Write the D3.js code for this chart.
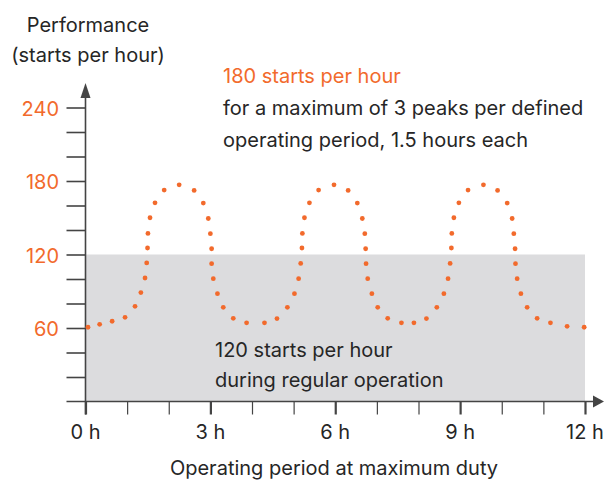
<!DOCTYPE html>
<html>
<head>
<meta charset="utf-8">
<script src="https://d3js.org/d3.v7.min.js"></script>
<style>
  body { margin: 0; background: #fff; font-family: 'Inter', sans-serif; }
  svg text { font-family: 'Inter', sans-serif; font-size: 20px; }
</style>
</head>
<body>
<div id="chart"></div>
<script>
// values
const hours = [0.06, 0.34, 0.64, 0.95, 1.19, 1.33, 1.43, 1.47, 1.49, 1.50, 1.55, 1.67, 1.89, 2.25, 2.61, 2.83, 2.95, 3.00, 3.03, 3.03, 3.07, 3.17, 3.31, 3.55,
  3.87, 4.30, 4.60, 4.85, 5.02, 5.12, 5.17, 5.20, 5.21, 5.26, 5.38, 5.60, 5.97, 6.31, 6.53, 6.65, 6.71, 6.73, 6.74, 6.78, 6.88, 7.02, 7.26,
  7.59, 7.89, 8.19, 8.44, 8.61, 8.71, 8.76, 8.79, 8.80, 8.85, 8.97, 9.19, 9.56, 9.90, 10.13, 10.25, 10.29, 10.32, 10.33, 10.37, 10.46, 10.61, 10.85,
  11.17, 11.57, 11.98]
const starts = [60.6, 63.0, 65.5, 68.7, 77.7, 88.9, 100.8, 113.1, 125.3, 137.2, 150.0, 162.2, 172.6, 176.9, 172.3, 162.0, 149.4, 137.0, 124.7, 112.5, 100.3, 88.0, 76.9, 67.9,
  64.2, 64.2, 67.7, 76.9, 88.0, 100.3, 112.7, 125.3, 137.2, 150.0, 162.2, 172.6, 176.9, 172.3, 162.0, 149.4, 137.0, 124.7, 112.5, 100.3, 88.0, 76.9, 67.9,
  64.2, 64.2, 67.7, 76.9, 88.0, 100.3, 112.7, 125.3, 137.2, 150.0, 162.2, 172.6, 176.9, 172.3, 162.0, 149.4, 137.0, 124.7, 112.5, 100.3, 88.0, 76.9, 67.9,
  64.2, 61.4, 60.6]
const regularLevel = 120
const yTicks = [60, 120, 180, 240]
const xTicks = [0, 3, 6, 9, 12]
const xLabel = 'Operating period at maximum duty'
const yLabel = ['Performance', '(starts per hour)']
const peakNote = ['180 starts per hour', 'for a maximum of 3 peaks per defined', 'operating period, 1.5 hours each']
const regularNote = ['120 starts per hour', 'during regular operation']

const orange = '#f26a2c'
const ink = '#262626'
const axisCol = '#444'

const W = 604, H = 481
const x = d3.scaleLinear().domain([0, 12]).range([85.5, 585])
const y = d3.scaleLinear().domain([0, 240]).range([401.5, 107.5])

const svg = d3.select('#chart').append('svg')
  .attr('width', W)
  .attr('height', H)

// grey band for regular operation
svg.append('rect')
  .attr('x', x(0))
  .attr('y', y(regularLevel))
  .attr('width', x(12) - x(0))
  .attr('height', y(0) - y(regularLevel))
  .attr('fill', '#dcdcde')

// y axis: ticks every 20 to the left
const yAxis = svg.append('g')
  .attr('transform', `translate(${x(0)},0)`)
  .call(d3.axisLeft(y).tickValues(d3.range(20, 241, 20)).tickSize(19).tickFormat(''))
yAxis.select('.domain').remove()
yAxis.selectAll('line').attr('stroke', axisCol).attr('stroke-width', 1.6)

svg.append('line')
  .attr('x1', x(0)).attr('x2', x(0))
  .attr('y1', y(0) + 13).attr('y2', 95)
  .attr('stroke', axisCol).attr('stroke-width', 1.6)
svg.append('path')
  .attr('d', `M${x(0)},83 L${x(0) - 5},98 L${x(0) + 5},98 Z`)
  .attr('fill', axisCol)

svg.selectAll('.ylab')
  .data(yTicks)
  .join('text')
  .attr('x', 59)
  .attr('y', d => y(d) + 8)
  .attr('text-anchor', 'end')
  .attr('fill', orange)
  .text(d => d)

// x axis: ticks every hour below
const xAxis = svg.append('g')
  .attr('transform', `translate(0,${y(0)})`)
  .call(d3.axisBottom(x).tickValues(d3.range(0, 13, 1)).tickSize(13).tickFormat(''))
xAxis.select('.domain').remove()
xAxis.selectAll('line')
  .attr('stroke', axisCol)
  .attr('stroke-width', d => d % 3 === 0 ? 2.2 : 1.2)

svg.append('line')
  .attr('x1', 66.5).attr('x2', 595)
  .attr('y1', y(0)).attr('y2', y(0))
  .attr('stroke', axisCol).attr('stroke-width', 1.6)
svg.append('path')
  .attr('d', `M604,${y(0)} L593,${y(0) - 6} L593,${y(0) + 6} Z`)
  .attr('fill', axisCol)

svg.selectAll('.xlab')
  .data(xTicks)
  .join('text')
  .attr('x', d => x(d))
  .attr('y', 438.5)
  .attr('text-anchor', 'middle')
  .attr('fill', ink)
  .text(d => d + ' h')

svg.append('text')
  .attr('x', 334)
  .attr('y', 475)
  .attr('text-anchor', 'middle')
  .attr('fill', ink)
  .text(xLabel)

svg.selectAll('.ytitle')
  .data(yLabel)
  .join('text')
  .attr('x', 88)
  .attr('y', (d, i) => 31.5 + i * 30.5)
  .attr('text-anchor', 'middle')
  .attr('fill', ink)
  .text(d => d)

// annotations
svg.selectAll('.peak')
  .data(peakNote)
  .join('text')
  .attr('x', 223)
  .attr('y', (d, i) => 83 + i * 32)
  .attr('fill', (d, i) => i === 0 ? orange : ink)
  .text(d => d)

svg.selectAll('.regular')
  .data(regularNote)
  .join('text')
  .attr('x', 215)
  .attr('y', (d, i) => 357 + i * 30)
  .attr('fill', ink)
  .text(d => d)

// dotted performance curve
svg.selectAll('.dot')
  .data(hours.map((h, i) => [h, starts[i]]))
  .join('circle')
  .attr('cx', d => x(d[0]))
  .attr('cy', d => y(d[1]))
  .attr('r', 2.4)
  .attr('fill', orange)
</script>
</body>
</html>
